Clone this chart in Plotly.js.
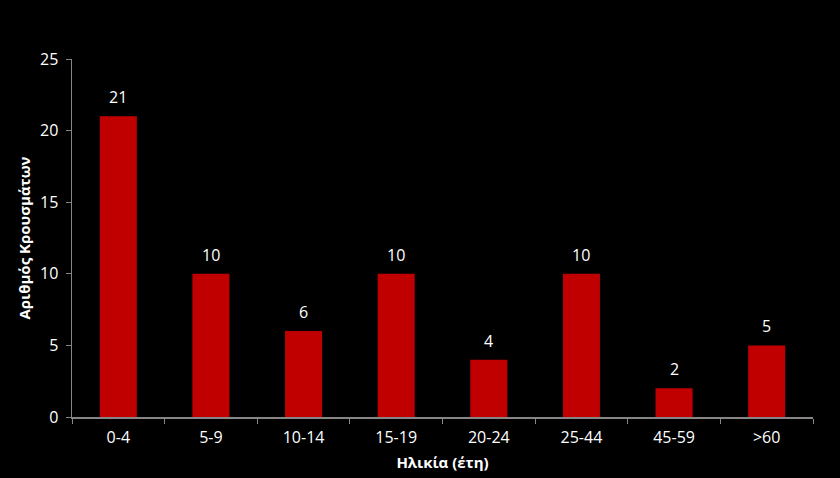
<!DOCTYPE html>
<html><head><meta charset="utf-8">
<script src="https://cdn.plot.ly/plotly-3.0.1.min.js"></script>
<style>html,body{margin:0;padding:0;background:#000;}#c{width:840px;height:478px;}</style>
</head><body><div id="c"></div>
<script>
const categories = ["0-4","5-9","10-14","15-19","20-24","25-44","45-59",">60"];
const cases = [21,10,6,10,4,10,2,5];
const yTicks = [0,5,10,15,20,25];

const font = "Open Sans, Liberation Sans, sans-serif";
const trace = {
  type: "bar", x: categories, y: cases,
  marker: {color: "#C00000"}, hoverinfo: "none"
};
const annotations = categories.map((c, i) => ({
  x: c, y: cases[i], xref: "x", yref: "y", text: String(cases[i]),
  showarrow: false, yanchor: "bottom", yshift: 6,
  font: {family: font, size: 16, color: "#FFFFFF"}
}));
const layout = {
  width: 840, height: 478,
  paper_bgcolor: "#000000", plot_bgcolor: "#000000",
  margin: {l: 72, r: 27, t: 59, b: 61},
  bargap: 0.6,
  showlegend: false,
  xaxis: {
    type: "category", tickson: "boundaries", ticks: "outside", ticklen: 5,
    tickcolor: "#868686", showline: true, linecolor: "#868686", linewidth: 1.5,
    showgrid: false, zeroline: false, ticklabelstandoff: 5,
    tickfont: {family: font, size: 16, color: "#FFFFFF"},
    title: {text: "<b>Ηλικία (έτη)</b>", font: {family: font, size: 15, color: "#FFFFFF"}, standoff: 11}
  },
  yaxis: {
    range: [0, 25], tickvals: yTicks, ticks: "outside", ticklen: 5,
    tickcolor: "#868686", showline: true, linecolor: "#868686", linewidth: 1.5,
    showgrid: false, zeroline: false, ticklabelstandoff: 4,
    tickfont: {family: font, size: 16, color: "#FFFFFF"},
    title: {text: "<b>Αριθμός Κρουσμάτων</b>", font: {family: font, size: 15, color: "#FFFFFF"}, standoff: 6}
  },
  annotations: annotations
};
Plotly.newPlot("c", [trace], layout, {displayModeBar: false, staticPlot: true});
</script></body></html>
